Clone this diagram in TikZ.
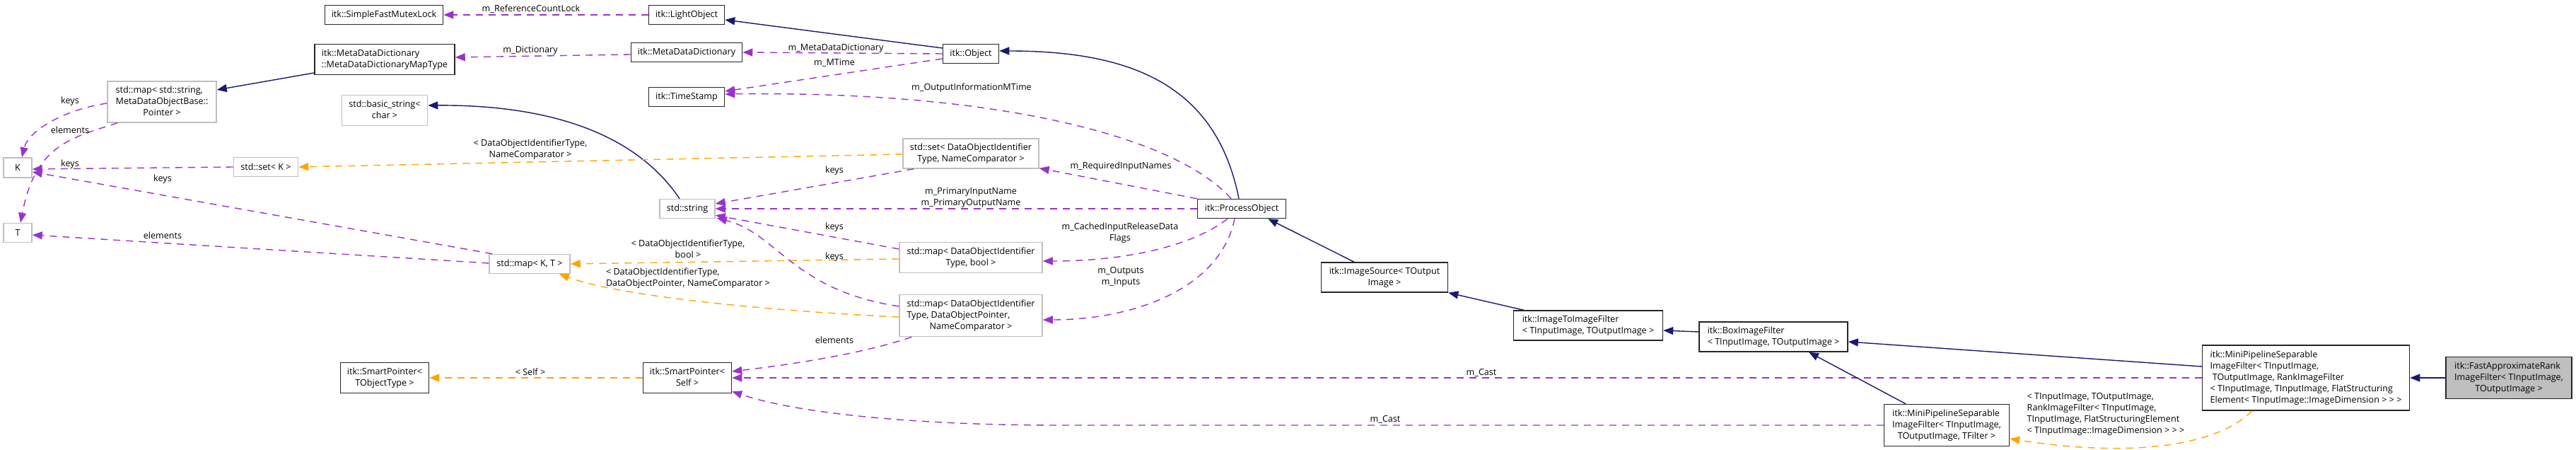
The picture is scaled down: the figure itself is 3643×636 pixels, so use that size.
\documentclass[tikz,border=0pt]{standalone}
\usepackage{fontspec}
\setmainfont{Open Sans}
\usetikzlibrary{arrows.meta,calc}
\definecolor{navyc}{HTML}{191970}
\definecolor{purp}{HTML}{9A32CD}
\definecolor{orng}{HTML}{FFA500}
\definecolor{grayb}{HTML}{BFBFBF}
\newcommand{\doxfont}{\fontsize{6.3pt}{8pt}\selectfont}
\newcommand{\tl}[1]{\begin{tabular}{@{}l@{}}#1\end{tabular}}
\newcommand{\cl}[1]{\multicolumn{1}{@{}c@{}}{#1}}
\begin{document}
\begin{tikzpicture}[x=0.5pt,y=-0.5pt,
  sz/.style 2 args={minimum width=#1*0.5pt, minimum height=#2*0.5pt},
  cls/.style={rectangle, inner sep=0pt, font=\doxfont, fill=white},
  doc/.style={cls, draw=black!85, line width=0.75pt},
  und/.style={cls, draw=grayb, line width=0.75pt},
  lbl/.style={font=\doxfont, inner sep=0pt, align=center},
  tip/.style={-{Triangle[length=7pt,width=5.5pt]}},
  inh/.style={tip, draw=navyc, line width=0.7pt},
  use/.style={tip, draw=purp, line width=0.7pt, dash pattern=on 5pt off 4pt},
  tmpl/.style={tip, draw=orng, line width=0.7pt, dash pattern=on 5pt off 4pt}]
\useasboundingbox (0,0) rectangle (3643,636);

% nodes
\node[doc, sz={167}{27}] (smfl) at (543,21) {itk::SimpleFastMutexLock};
\node[doc, sz={107}{27}] (light) at (971,21) {itk::LightObject};
\node[doc, sz={79}{27}] (obj) at (1373,76) {itk::Object};
\node[doc, sz={198}{43}] (mdmt) at (544,84) {\tl{itk::MetaDataDictionary\\ \cl{::MetaDataDictionaryMapType}}};
\node[doc, sz={157}{27}] (mdd) at (971,74) {itk::MetaDataDictionary};
\node[doc, sz={107}{27}] (ts) at (971,137) {itk::TimeStamp};
\node[und, sz={154}{58}] (mapstr) at (229,144) {\tl{std::map< std::string,\\MetaDataObjectBase::\\ \cl{Pointer >}}};
\node[und, sz={121}{43}] (bstr) at (544,156) {\tl{std::basic\_string<\\ \cl{char >}}};
\node[und, sz={40}{28}] (K) at (25,237) {K};
\node[und, sz={91}{27}] (setK) at (376,236) {std::set< K >};
\node[und, sz={192}{42}] (setDOI) at (1373,217) {\tl{std::set< DataObjectIdentifier\\ \cl{Type, NameComparator >}}};
\node[und, sz={78}{27}] (str) at (972,295) {std::string};
\node[doc, sz={125}{27}] (po) at (1756,295) {itk::ProcessObject};
\node[und, sz={40}{27}] (T) at (25,329) {T};
\node[und, sz={114}{27}] (mapKT) at (749,373) {std::map< K, T >};
\node[und, sz={202}{43}] (mapbool) at (1373,364) {\tl{std::map< DataObjectIdentifier\\ \cl{Type, bool >}}};
\node[und, sz={202}{59}] (mapdop) at (1373,446) {\tl{std::map< DataObjectIdentifier\\Type, DataObjectPointer,\\ \cl{NameComparator >}}};
\node[doc, sz={125}{43}] (spT) at (544,534) {\tl{itk::SmartPointer<\\ \cl{TObjectType >}}};
\node[doc, sz={125}{43}] (spS) at (972,534) {\tl{itk::SmartPointer<\\ \cl{Self >}}};
\node[doc, sz={179}{42}] (isrc) at (1958,392) {\tl{itk::ImageSource< TOutput\\ \cl{Image >}}};
\node[doc, sz={211}{42}] (i2i) at (2246,460) {\tl{itk::ImageToImageFilter\\ \cl{< TInputImage, TOutputImage >}}};
\node[doc, sz={210}{42}] (boxf) at (2508,476) {\tl{itk::BoxImageFilter\\ \cl{< TInputImage, TOutputImage >}}};
\node[doc, sz={177}{59}] (mpsB) at (2753,601) {\tl{itk::MiniPipelineSeparable\\ImageFilter< TInputImage,\\ \cl{TOutputImage, TFilter >}}};
\node[doc, sz={293}{92}] (mpsR) at (3261,534) {\tl{itk::MiniPipelineSeparable\\ImageFilter< TInputImage,\\\ TOutputImage, RankImageFilter\\< TInputImage, TInputImage, FlatStructuring\\ \cl{Element< TInputImage::ImageDimension > > >}}};
\node[doc, sz={178}{59}, fill=grayb] (fast) at (3548,534) {\tl{itk::FastApproximateRank\\ImageFilter< TInputImage,\\ \cl{TOutputImage >}}};

% connectors
\draw[use] (light.west) -- (smfl.east);
\node[lbl] (l1) at (751,13) {m\_ReferenceCountLock};

\draw[inh] ($(obj.west)+(0,-8)$) -- ($(light.east)+(0,7)$);

\draw[use] (obj.west) -- (mdd.east);
\node[lbl] (l3) at (1182,68) {m\_MetaDataDictionary};

\draw[use] ($(obj.west)+(0,7)$) -- ($(ts.east)+(0,-8)$);
\node[lbl] (l4) at (1180,89) {m\_MTime};

\draw[use] ($(po.north)+(-15,0)$) .. controls (1660,190) and (1400,128) .. ($(ts.east)+(0,-4)$);
\node[lbl] (l5) at (1374,124) {m\_OutputInformationMTime};

\draw[use] ($(mdd.west)+(0,3)$) -- ($(mdmt.east)+(0,-3)$);
\node[lbl] (l6) at (750,71) {m\_Dictionary};

\draw[inh] ($(mdmt.west)+(0,19)$) -- ($(mapstr.east)+(0,-17)$);

\draw[inh] ($(str.north)+(-11,0)$) .. controls (900,190) and (780,148) .. ($(bstr.east)+(0,-7)$);

\draw[use] ($(mapstr.west)+(0,2)$) .. controls (90,155) and (40,185) .. ($(K.north)+(6,0)$);
\node[lbl] (l9) at (99,143) {keys};

\draw[use] ($(mapstr.south west)+(15,0)$) .. controls (100,195) and (50,205) .. ($(T.north)+(4,0)$);
\node[lbl] (l10) at (99,184) {elements};

\draw[use] (setK.west) -- ($(K.east)+(0,2)$);
\node[lbl] (l11) at (99,232) {keys};

\draw[use] ($(mapKT.north west)+(5,0)$) -- ($(K.east)+(0,6)$);
\node[lbl] (l12) at (230,253) {keys};

\draw[use] ($(mapKT.west)+(0,-1)$) -- ($(T.east)+(0,3)$);
\node[lbl] (l13) at (230,333) {elements};

\draw[tmpl] ($(setDOI.west)+(0,1)$) -- (setK.east);
\node[lbl] (l14) at (750,211) {< DataObjectIdentifierType,\\NameComparator >};

\draw[use] ($(setDOI.south west)+(16,0)$) -- ($(str.east)+(0,-7)$);
\node[lbl] (l15) at (1180,241) {keys};

\draw[use] (po.north west) -- ($(setDOI.south east)+(0,-1)$);
\node[lbl] (l16) at (1585,235) {m\_RequiredInputNames};

\draw[use] (po.west) -- (str.east);
\node[lbl] (l17) at (1373,279) {m\_PrimaryInputName\\m\_PrimaryOutputName};

\draw[use] ($(po.south)+(-20,0)$) .. controls (1690,345) and (1600,369) .. ($(mapbool.east)+(0,5)$);
\node[lbl] (l18) at (1584,329) {m\_CachedInputReleaseData\\Flags};

\draw[use] ($(po.south)+(-10,0)$) .. controls (1725,410) and (1600,452) .. ($(mapdop.east)+(0,6)$);
\node[lbl] (l19) at (1585,391) {m\_Outputs\\m\_Inputs};

\draw[use] ($(mapbool.west)+(0,-12)$) -- ($(str.south east)+(0,-5)$);
\node[lbl] (l20) at (1180,321) {keys};

\draw[tmpl] ($(mapbool.west)+(0,2)$) -- (mapKT.east);
\node[lbl] (l21) at (973,352) {< DataObjectIdentifierType,\\bool >};

\draw[use] ($(mapdop.west)+(0,-13)$) .. controls (1120,410) and (1100,330) .. ($(str.south east)+(2,-1)$);
\node[lbl] (l22) at (1180,363) {keys};

\draw[tmpl] ($(mapdop.west)+(0,2)$) .. controls (1100,440) and (880,420) .. ($(mapKT.south east)+(-16,0)$);
\node[lbl] (l23) at (973,393) {\tl{< DataObjectIdentifierType,\\ \cl{DataObjectPointer, NameComparator >}}};

\draw[use] ($(mapdop.south west)+(18,0)$) .. controls (1220,500) and (1120,515) .. ($(spS.east)+(0,-9)$);
\node[lbl] (l24) at (1180,481) {elements};

\draw[tmpl] (spS.west) -- (spT.east);
\node[lbl] (l25) at (750,526) {< Self >};

\draw[use] (mpsR.west) -- (spS.east);
\node[lbl] (l26) at (2095,527) {m\_Cast};

\draw[use] (mpsB.west) -- (1500,601) .. controls (1300,601) and (1130,585) .. ($(spS.south east)+(0,-3)$);
\node[lbl] (l27) at (1959,593) {m\_Cast};

\draw[inh] ($(isrc.north)+(-43,0)$) -- ($(po.south east)+(-26,0)$);

\draw[inh] ($(po.north)+(-4,0)$) .. controls (1720,120) and (1600,72) .. ($(obj.east)+(0,-4)$);

\draw[inh] ($(i2i.north west)+(15,0)$) -- (isrc.south east);

\draw[inh] ($(boxf.west)+(0,-7)$) -- ($(i2i.east)+(0,7)$);

\draw[inh] ($(mpsR.west)+(0,-16)$) -- ($(boxf.east)+(0,7)$);

\draw[inh] ($(mpsB.north)+(-58,0)$) -- ($(boxf.south)+(50,0)$);

\draw[tmpl] ($(mpsR.south)+(-76,0)$) .. controls (3130,635) and (3000,645) .. ($(mpsB.east)+(0,19)$);
\node[lbl] (l34) at (2978,585) {\tl{< TInputImage, TOutputImage,\\RankImageFilter< TInputImage,\\TInputImage, FlatStructuringElement\\ \cl{< TInputImage::ImageDimension > > >}}};

\draw[inh] (fast.west) -- (mpsR.east);
\end{tikzpicture}
\end{document}
